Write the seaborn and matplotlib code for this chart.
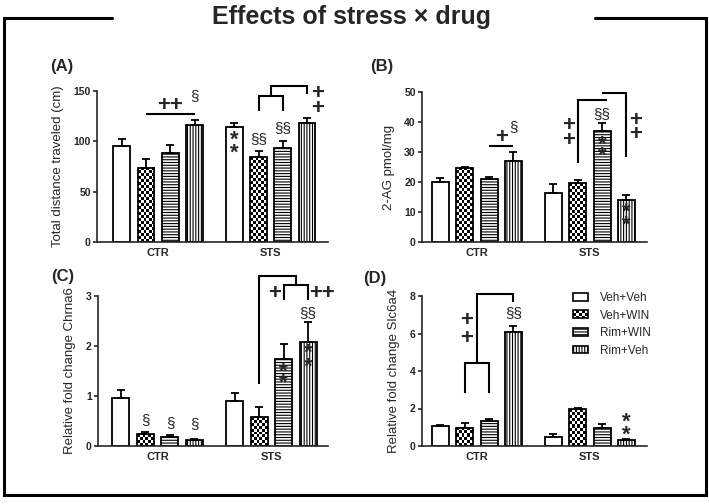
import numpy as np
import pandas as pd
import matplotlib
matplotlib.use("Agg")
import matplotlib.pyplot as plt
import seaborn as sns
from matplotlib.patches import Patch, Rectangle
from matplotlib.legend_handler import HandlerBase
from matplotlib.lines import Line2D

stress = ["CTR", "STS"]
treatments = ["Veh+Veh", "Veh+WIN", "Rim+WIN", "Rim+Veh"]

# mean and upper SEM, order: CTR x4 treatments, then STS x4 treatments
dist_mean = [95.5, 74, 88, 116, 114, 84, 93, 118]
dist_sem = [6.5, 8, 8, 5, 4, 6, 7, 5]
ag_mean = [20, 24.7, 21, 26.9, 16.5, 19.6, 37, 14]
ag_sem = [1.3, 0.3, 0.7, 3.1, 2.9, 1.0, 2.6, 1.7]
chrna6_mean = [0.97, 0.24, 0.18, 0.13, 0.91, 0.58, 1.75, 2.09]
chrna6_sem = [0.16, 0.04, 0.05, 0.02, 0.16, 0.21, 0.29, 0.40]
slc6a4_mean = [1.07, 0.98, 1.35, 6.08, 0.50, 1.96, 0.98, 0.32]
slc6a4_sem = [0.05, 0.26, 0.11, 0.32, 0.14, 0.05, 0.18, 0.04]

sns.set_theme(style="ticks")
plt.rcParams["font.family"] = ["Liberation Sans", "DejaVu Sans"]
plt.rcParams["hatch.linewidth"] = 0.8

W, H = 709, 504
fig = plt.figure(figsize=(W / 100, H / 100), dpi=100)


def px_axes(left, right, y0, top):
    return fig.add_axes([left / W, 1 - y0 / H, (right - left) / W, (y0 - top) / H])


def checker(ax, p):
    x0, w, h = p.get_x(), p.get_width(), p.get_height()
    (a, b), (c, d) = ax.transData.transform([(x0, 0), (x0 + w, h)])
    nc = max(1, int(round((c - a) / 3.0)))
    nr = max(1, int(round((d - b) / 3.0)))
    grid = np.indices((nr, nc)).sum(axis=0) % 2
    ax.imshow(grid, extent=(x0, x0 + w, 0, h), origin="lower", cmap="gray_r",
              vmin=0, vmax=1, interpolation="nearest", aspect="auto", zorder=1.5)
    p.set_facecolor("none")
    p.set_zorder(2)


def panel(left, right, y0, tick_px, means, sems, yticks, ytop, xlim, ylabel):
    ppu = (y0 - tick_px) / yticks[-1]
    ax = px_axes(left, right, y0, y0 - ytop * ppu)
    df = pd.DataFrame({"stress": np.repeat(stress, 4), "treatment": treatments * 2,
                       "value": means})
    sns.barplot(data=df, x="stress", y="value", hue="treatment", order=stress,
                hue_order=treatments, palette=["white"] * 4, edgecolor="black",
                linewidth=1.3, width=0.862, gap=0.31, errorbar=None, legend=False, ax=ax)
    ax.set_xlim(*xlim)
    ax.set_ylim(0, ytop)
    bars = sorted(ax.patches, key=lambda p: p.get_x())
    xs = [p.get_x() + p.get_width() / 2 for p in bars]
    for i, p in enumerate(bars):
        if i % 4 == 1:
            checker(ax, p)
        elif i % 4 == 2:
            p.set_hatch("------")
        elif i % 4 == 3:
            p.set_hatch("||||||")
    ax.errorbar(xs, means, yerr=[np.zeros(len(means)), sems], fmt="none", ecolor="black",
                elinewidth=1.3, capsize=3, capthick=1.3, zorder=4)
    ax.set_xlim(*xlim)
    ax.set_ylim(0, ytop)
    sns.despine(ax=ax)
    ax.spines["left"].set_bounds(0, yticks[-1])
    for s in ("left", "bottom"):
        ax.spines[s].set_linewidth(1.2)
    ax.set_yticks(yticks)
    ax.tick_params(axis="x", length=0, pad=4.5, labelsize=8)
    ax.tick_params(axis="y", length=3, width=1.2, pad=1.5, labelsize=7.5)
    for lbl in ax.get_xticklabels() + ax.get_yticklabels():
        lbl.set_fontweight("bold")
    ax.set_xlabel("")
    ax.set_ylabel(ylabel, fontsize=9.5, labelpad=7)
    ax.yaxis.label.set_y(yticks[-1] / 2 / ytop)
    ax.grid(False)
    dx = 1.0 / (ax.transData.transform((1, 0))[0] - ax.transData.transform((0, 0))[0])
    return ax, xs, dx


def line(ax, xs, ys):
    ax.plot(xs, ys, color="black", lw=1.5, clip_on=False, solid_joinstyle="miter",
            solid_capstyle="butt", zorder=5)


def txt(ax, x, y, s, size, weight="normal"):
    ax.text(x, y, s, ha="center", va="center", fontsize=size, fontweight=weight,
            clip_on=False, zorder=6)


def plus(ax, x, y, s="+"):
    txt(ax, x, y, s, 16, "bold")


def sect(ax, x, y, s="\u00a7"):
    txt(ax, x, y, s, 11)


def stacked(ax, x, y_low, y_high, s, size, rise):
    # one symbol above another as a single text; baseline step = (0.72*ls + 0.21) em
    step = ax.transData.transform((0, y_high))[1] - ax.transData.transform((0, y_low))[1]
    em = size * 100 / 72
    ls = max(0.05, (step - 0.21 * em) / (0.72 * em))
    ax.annotate(s + "\n" + s, (x, y_low), xytext=(0, -rise * size), textcoords="offset points",
                ha="center", va="baseline", fontsize=size, fontweight="bold",
                linespacing=ls, clip_on=False, zorder=6)


def stars(ax, x, y_low, y_high):
    stacked(ax, x, y_low, y_high, "*", 16, 0.42)


def pluses(ax, x, y_low, y_high):
    stacked(ax, x, y_low, y_high, "+", 16, 0.34)


# (A)
ax, x, dx = panel(97, 328, 242, 91, dist_mean, dist_sem, [0, 50, 100, 150], 166,
                  (-0.544, 1.509), "Total distance traveled (cm)")
line(ax, [x[1], x[3]], [127, 127])
plus(ax, x[2], 136, "++")
sect(ax, x[3], 145)
stars(ax, x[4], 92, 105)
sect(ax, x[5], 102, "\u00a7\u00a7")
sect(ax, x[6], 113, "\u00a7\u00a7")
mid = (x[5] + x[6]) / 2
line(ax, [x[5], x[5], x[6], x[6]], [130, 145, 145, 130])
line(ax, [mid, mid, x[7], x[7]], [145, 155, 155, 147])
pluses(ax, x[7] + 10 * dx, 135, 149)

# (B)
ax, x, dx = panel(422, 647, 242, 92, ag_mean, ag_sem, [0, 10, 20, 30, 40, 50], 55,
                  (-0.486, 1.505), "2-AG pmol/mg")
line(ax, [x[2], x[3]], [32, 32])
plus(ax, (x[2] + x[3]) / 2, 34.7)
sect(ax, x[3], 38.3)
line(ax, [x[5], x[5], x[6] + 5 * dx], [26.3, 47.3, 47.3])
line(ax, [x[6], x[7], x[7]], [49.6, 49.6, 28.3])
pluses(ax, x[5] - 9 * dx, 34.4, 39.4)
pluses(ax, x[7] + 9 * dx, 36.4, 41)
sect(ax, x[6], 42.7, "\u00a7\u00a7")
stars(ax, x[6], 30, 33.5)
stars(ax, x[7], 6.8, 11)

# (C)
ax, x, dx = panel(98, 328, 446, 296, chrna6_mean, chrna6_sem, [0, 1, 2, 3], 3.55,
                  (-0.525, 1.498), "Relative fold change Chrna6")
sect(ax, x[1], 0.52)
sect(ax, x[2], 0.46)
sect(ax, x[3], 0.44)
mid = (x[6] + x[7]) / 2
line(ax, [x[6], x[6], x[7], x[7]], [2.92, 3.22, 3.22, 2.92])
line(ax, [x[5], x[5], mid, mid], [1.25, 3.4, 3.4, 3.22])
plus(ax, x[6] - 9 * dx, 3.05)
plus(ax, x[7] + 14 * dx, 3.05, "++")
sect(ax, x[7], 2.65, "\u00a7\u00a7")
stars(ax, x[6], 1.33, 1.55)
stars(ax, x[7], 1.65, 1.92)

# (D)
ax, x, dx = panel(422, 647, 446, 296, slc6a4_mean, slc6a4_sem, [0, 2, 4, 6, 8], 8.8,
                  (-0.486, 1.505), "Relative fold change Slc6a4")
mid = (x[1] + x[2]) / 2
line(ax, [x[1], x[1], x[2], x[2]], [2.84, 4.44, 4.44, 2.84])
line(ax, [mid, mid, x[3], x[3]], [4.44, 8.1, 8.1, 7.7])
pluses(ax, x[1] + 2 * dx, 5.83, 6.8)
sect(ax, x[3], 7.08, "\u00a7\u00a7")
stars(ax, x[7], 0.76, 1.48)


class CheckerHandler(HandlerBase):
    def create_artists(self, legend, orig_handle, xdescent, ydescent, width, height,
                       fontsize, trans):
        arts = []
        nc = max(1, int(round(width / 2.2)))
        nr = max(1, int(round(height / 2.2)))
        cw, ch = width / nc, height / nr
        for i in range(nr):
            for j in range(nc):
                if (i + j) % 2:
                    arts.append(Rectangle((j * cw - xdescent, i * ch - ydescent), cw, ch,
                                          facecolor="black", edgecolor="none", transform=trans))
        arts.append(Rectangle((-xdescent, -ydescent), width, height, facecolor="none",
                              edgecolor="black", lw=1.2, transform=trans))
        return arts


chk = Patch(facecolor="white", edgecolor="black")
handles = [Patch(facecolor="white", edgecolor="black", lw=1.2), chk,
           Patch(facecolor="white", edgecolor="black", lw=1.2, hatch="------"),
           Patch(facecolor="white", edgecolor="black", lw=1.2, hatch="||||||")]
ax.legend(handles, treatments, handler_map={chk: CheckerHandler()}, loc="upper left",
          bbox_to_anchor=(573 / W, 1 - 292 / H), bbox_transform=fig.transFigure,
          frameon=False, fontsize=8.5, handlelength=1.27, handleheight=0.65,
          handletextpad=1.0, labelspacing=0.47, borderpad=0, borderaxespad=0)

# panel letters, title and outer frame
for s, px, py in [("(A)", 62, 67), ("(B)", 382, 67), ("(C)", 63, 276), ("(D)", 375, 278)]:
    fig.text(px / W, 1 - py / H, s, ha="center", va="center", fontsize=12, fontweight="bold")
fig.text(352 / W, 1 - 24 / H, "Effects of stress \u00d7 drug", ha="center", va="baseline",
         fontsize=18, fontweight="bold")
fx = [112, 4, 4, 706, 706, 595]
fy = [18, 18, 495, 495, 18, 18]
fig.add_artist(Line2D([v / W for v in fx], [1 - v / H for v in fy], transform=fig.transFigure,
                      color="black", lw=2.2, solid_joinstyle="miter"))

fig.savefig("out.png", dpi=100)
